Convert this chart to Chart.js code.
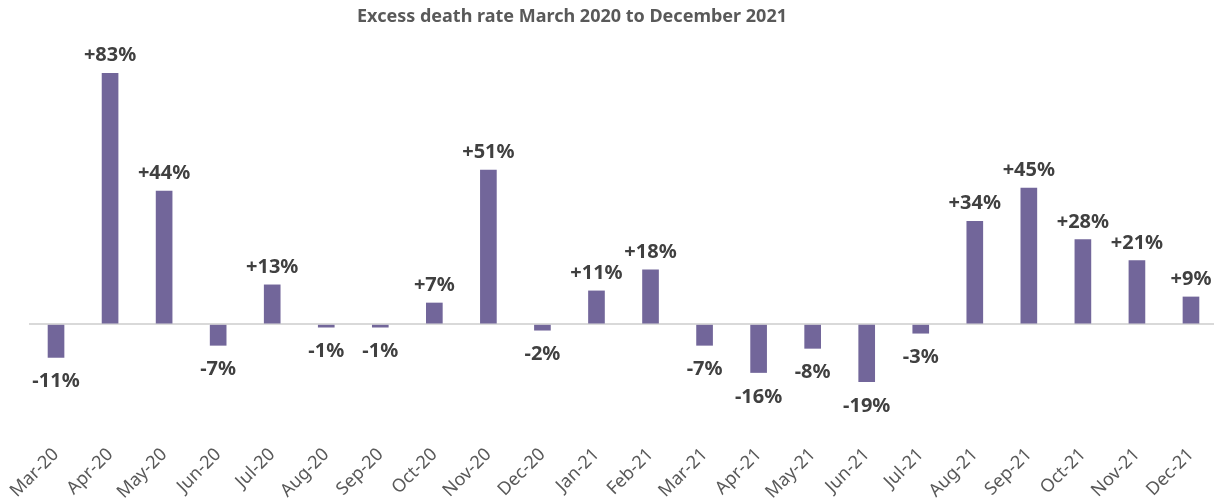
<!DOCTYPE html>
<html>
<head>
<meta charset="utf-8">
<script src="https://cdn.jsdelivr.net/npm/chart.js@4/dist/chart.umd.min.js"></script>
<style>
    html, body { margin: 0; padding: 0; background: #fff; overflow: hidden; }
    #wrap { width: 1218px; height: 504px; position: relative; }
</style>
</head>
<body>
<div id="wrap"><canvas id="chart"></canvas></div>
<script>
// Chart data
const months = ['Mar-20', 'Apr-20', 'May-20', 'Jun-20', 'Jul-20', 'Aug-20', 'Sep-20', 'Oct-20', 'Nov-20', 'Dec-20', 'Jan-21',
    'Feb-21', 'Mar-21', 'Apr-21', 'May-21', 'Jun-21', 'Jul-21', 'Aug-21', 'Sep-21', 'Oct-21', 'Nov-21', 'Dec-21'];
const excessRate = [-11, 83, 44, -7, 13, -1, -1, 7, 51, -2, 11, 18, -7, -16, -8, -19, -3, 34, 45, 28, 21, 9];
const chartTitle = 'Excess death rate March 2020 to December 2021';

const barColor = '#72669a';
const textGray = '#595959';

// title (sits a bit left of centre in the original) + "+83%" style value labels
const labelsPlugin = {
    id: 'labelsPlugin',
    afterDatasetsDraw(chart) {
        const { ctx } = chart;
        const meta = chart.getDatasetMeta(0);
        ctx.save();
        ctx.textAlign = 'center';
        ctx.textBaseline = 'middle';
        ctx.fillStyle = textGray;
        ctx.font = 'bold 18px "Noto Sans"';
        ctx.fillText(chartTitle, 572, 17);

        ctx.font = 'bold 20px "Noto Sans"';
        ctx.fillStyle = '#404040';
        ctx.textBaseline = 'alphabetic';
        meta.data.forEach((bar, i) => {
            const v = excessRate[i];
            const txt = (v > 0 ? '+' : '') + v + '%';
            if (v >= 0) {
                ctx.fillText(txt, bar.x, bar.y - 12);
            } else {
                ctx.fillText(txt, bar.x, bar.y + 30);
            }
        });
        ctx.restore();
    }
};

new Chart(document.getElementById('chart'), {
    type: 'bar',
    data: {
        labels: months,
        datasets: [{
            data: excessRate,
            backgroundColor: barColor,
            barThickness: 16
        }]
    },
    options: {
        responsive: true,
        maintainAspectRatio: false,
        animation: false,
        layout: { padding: { top: 40, right: 0, left: 29, bottom: 0 } },
        plugins: {
            legend: { display: false },
            tooltip: { enabled: false },
            title: { display: false }
        },
        scales: {
            x: {
                grid: { display: false },
                border: { display: false },
                afterFit: scale => { scale.height = 68; },
                ticks: {
                    color: textGray,
                    font: { family: '"Noto Sans"', size: 18 },
                    minRotation: 45,
                    maxRotation: 45,
                    padding: 0
                }
            },
            y: {
                min: -37,
                max: 94,
                border: { display: false },
                ticks: { display: false },
                grid: {
                    drawTicks: false,
                    lineWidth: 2,
                    color: c => c.tick.value === 0 ? '#d9d9d9' : 'transparent'
                }
            }
        }
    },
    plugins: [labelsPlugin]
});
</script>
</body>
</html>
